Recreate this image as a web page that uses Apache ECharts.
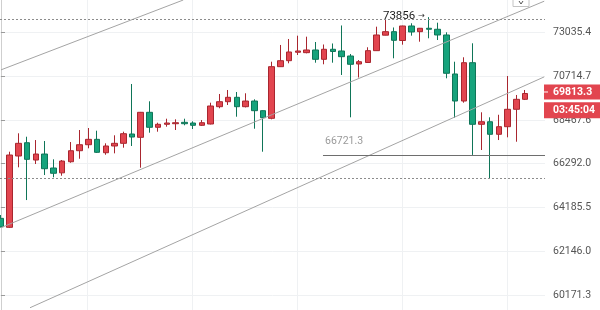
<!DOCTYPE html>
<html>
<head>
<meta charset="utf-8">
<script src="https://cdn.jsdelivr.net/npm/echarts@6/dist/echarts.min.js"></script>
<style>
  html, body { margin: 0; padding: 0; background: #fff; }
  #chart { width: 600px; height: 310px; }
</style>
</head>
<body>
<div id="chart"></div>
<script>
// OHLC per bar, bar index = position in the arrays
const open  = [63673, 63253, 66668, 67325, 66470, 66766, 66081, 65845, 66387, 66929,
               67226, 67493, 66830, 67162, 67295, 67759, 67593, 68852, 68095, 68245,
               68275, 68345, 68310, 68195, 68260, 69137, 69392, 69617, 69137, 69427,
               68934, 68547, 71207, 71522, 71968, 71947, 72090, 71595, 72127, 72037,
               71771, 71349, 71427, 72053, 72881, 73070, 72595, 73377, 73070, 73253,
               73199, 72892, 70825, 69427, 71417, 68245, 68375, 67744, 68125, 69005,
               69514];
const close = [63281, 66717, 67295, 66505, 66766, 66047, 65825, 66421, 66929, 67226,
               67493, 66850, 67162, 67295, 67774, 67608, 68852, 68095, 68245, 68310,
               68325, 68275, 68195, 68325, 69173, 69392, 69617, 69137, 69427, 68934,
               68578, 71207, 71522, 71984, 72037, 72090, 71595, 72127, 72010, 71734,
               71333, 71469, 72053, 72892, 73070, 72606, 73377, 73053, 73253, 73199,
               72892, 70861, 69427, 71417, 68245, 68375, 67744, 68125, 69005, 69514,
               69813.3];
const low   = [63244, 63221, 66115, 64538, 66275, 65740, 65628, 65706, 66339, 66534,
               67048, 66816, 66731, 66800, 67078, 67162, 66095, 67824, 67874, 68125,
               67959, 68195, 68009, 68160, 68240, 69056, 69224, 68628, 69100, 68024,
               66880, 68496, 71190, 71385, 71824, 71912, 71417, 71333, 71417, 70772,
               68598, 70641, 71410, 72040, 72870, 71649, 72372, 72854, 72531, 72714,
               72622, 70600, 68578, 69341, 66721.3, 66964, 65580, 67458, 67593, 67374,
               69478];
const high  = [63829, 66880, 67794, 67623, 67458, 67409, 66505, 66470, 67359, 67959,
               68059, 67924, 67295, 67694, 67874, 70304, 68870, 69412, 68325, 68527,
               68496, 68527, 68396, 68460, 69341, 69788, 69994, 69891, 69824, 69514,
               68950, 71469, 72356, 72676, 72854, 72800, 72515, 72382, 72436, 73404,
               71877, 71558, 72234, 73339, 73701, 73296, 73393, 73523, 73270, 73856,
               73555, 73035, 71469, 71702, 72446, 68852, 68598, 68727, 70718, 69737,
               69994];

// price scale ticks (log spaced)
const yTicks = [60171.3, 62146.0, 64185.5, 66292.0, 68467.6, 70714.7, 73035.4];
// session separators, in bar units
const dayLines = [9.85, 21.87, 33.9, 45.92, 57.94];

// drawn trend lines: [barIndex, price] end points
const upperLine = [[0, 71040], [20.87, 74796]];
const midLine   = [[0, 63236], [62.2, 74730]];
const lowLine   = [[3.32, 59611], [62.2, 70674]];
// horizontal ray at the recent swing low
const supportRay = { from: 36.87, to: 62.29, price: 66721.3 };
// dotted range levels
const rangeLevels = [73740, 65580];

const peakIndex = 49;
const countdown = '03:45:04';

const X_MIN = -0.1145, X_MAX = 62.29;
const Y_MIN = 59512, Y_MAX = 74796;

const UP = '#e2454f', DOWN = '#16a37c';
const CLEAR = 'rgba(0,0,0,0)';

const bars = open.map((o, i) => [i, o, close[i], low[i], high[i]]);
const lastClose = close[close.length - 1];

const chart = echarts.init(document.getElementById('chart'), null, { renderer: 'canvas' });

const trend = (data) => ({
  type: 'line',
  data: data,
  symbol: 'none',
  silent: true,
  clip: true,
  z: 4,
  lineStyle: { color: '#a4a4a4', width: 1 }
});

// right-edge tag anchored on the last close
const priceTag = (text, dy, lh, dash) => ({
  yAxis: lastClose,
  lineStyle: { color: CLEAR, width: 1 },
  label: {
    show: true,
    position: 'end',
    distance: [-1, 0],
    offset: [0, dy],
    formatter: (dash ? '{d|}' : '{n|}') + '{v|' + text + '}',
    backgroundColor: UP,
    lineHeight: lh,
    width: 60,
    align: 'left',
    padding: [0, 0, 0, 0],
    rich: {
      d: { width: 4, height: 1, backgroundColor: '#fff' },
      n: { width: 4, height: 1 },
      v: {
        color: '#fff',
        fontWeight: 'bold',
        fontSize: 10.5,
        fontFamily: 'Roboto',
        lineHeight: lh,
        padding: [0, 0, 0, 5]
      }
    }
  }
});

chart.setOption({
  animation: false,
  textStyle: { fontFamily: 'Roboto' },
  grid: { left: 0, right: 55, top: 0, bottom: 0, containLabel: false, outerBoundsMode: 'none' },
  xAxis: {
    type: 'value',
    min: X_MIN,
    max: X_MAX,
    axisLine: { show: false },
    axisTick: { show: false, customValues: dayLines },
    axisLabel: { show: false },
    splitLine: { show: true, lineStyle: { color: '#eff1f3', width: 1 } }
  },
  yAxis: {
    type: 'log',
    position: 'right',
    min: Y_MIN,
    max: Y_MAX,
    axisLine: { show: true, lineStyle: { color: '#cfcfcf', width: 1 } },
    axisTick: { show: true, length: 4, lineStyle: { color: '#9a9a9a' }, customValues: yTicks },
    axisLabel: {
      customValues: yTicks,
      formatter: v => Number(v).toFixed(1),
      color: '#555',
      fontSize: 10.5,
      fontFamily: 'Roboto',
      margin: 8
    },
    splitLine: { show: true, lineStyle: { color: '#eff1f3', width: 1 } }
  },
  series: [
    {
      type: 'candlestick',
      data: bars,
      encode: { x: 0, y: [1, 2, 3, 4] },
      barWidth: 6,
      clip: true,
      z: 3,
      itemStyle: {
        color: UP,
        color0: DOWN,
        borderColor: '#a9262f',
        borderColor0: '#0f7558',
        borderWidth: 1
      },
      markPoint: {
        silent: true,
        symbol: 'circle',
        symbolSize: 0,
        data: [{ coord: [peakIndex, high[peakIndex]], value: high[peakIndex] }],
        label: {
          show: true,
          position: 'left',
          distance: 4,
          offset: [0, -1.5],
          formatter: p => '{v|' + p.value + '} {a|→}',
          rich: {
            v: { fontSize: 11.5, color: '#1e1e1e', fontFamily: 'Roboto' },
            a: { fontSize: 8, color: '#333', fontFamily: 'DejaVu Sans' }
          }
        }
      },
      markLine: {
        silent: true,
        symbol: ['none', 'none'],
        animation: false,
        label: { show: false },
        data: [
          { yAxis: rangeLevels[0], lineStyle: { color: '#8c8c8c', type: [2, 2], width: 1 } },
          { yAxis: rangeLevels[1], lineStyle: { color: '#8c8c8c', type: [2, 2], width: 1 } },
          [
            {
              coord: [supportRay.from, supportRay.price],
              lineStyle: { color: '#6e6e6e', type: 'solid', width: 1 },
              label: {
                show: true,
                position: 'insideStartTop',
                distance: [2, 8],
                formatter: supportRay.price.toFixed(1),
                color: '#9a9a9a',
                fontSize: 10.5,
                fontFamily: 'Roboto'
              }
            },
            { coord: [supportRay.to, supportRay.price] }
          ],
          priceTag(lastClose.toFixed(1), -1.5, 15, true),
          priceTag(countdown, 16.7, 16, false)
        ]
      }
    },
    trend(upperLine),
    trend(midLine),
    trend(lowLine)
  ],
  graphic: [
    {
      type: 'rect',
      shape: { x: 513, y: -9, width: 16, height: 15.5 },
      style: { fill: '#fff', stroke: '#c4c4c4', lineWidth: 1 },
      z: 10
    },
    {
      type: 'polyline',
      shape: { points: [[519, 1], [521, 4], [523, 1]] },
      style: { stroke: '#555', lineWidth: 1, fill: null },
      z: 11
    }
  ]
});
</script>
</body>
</html>
